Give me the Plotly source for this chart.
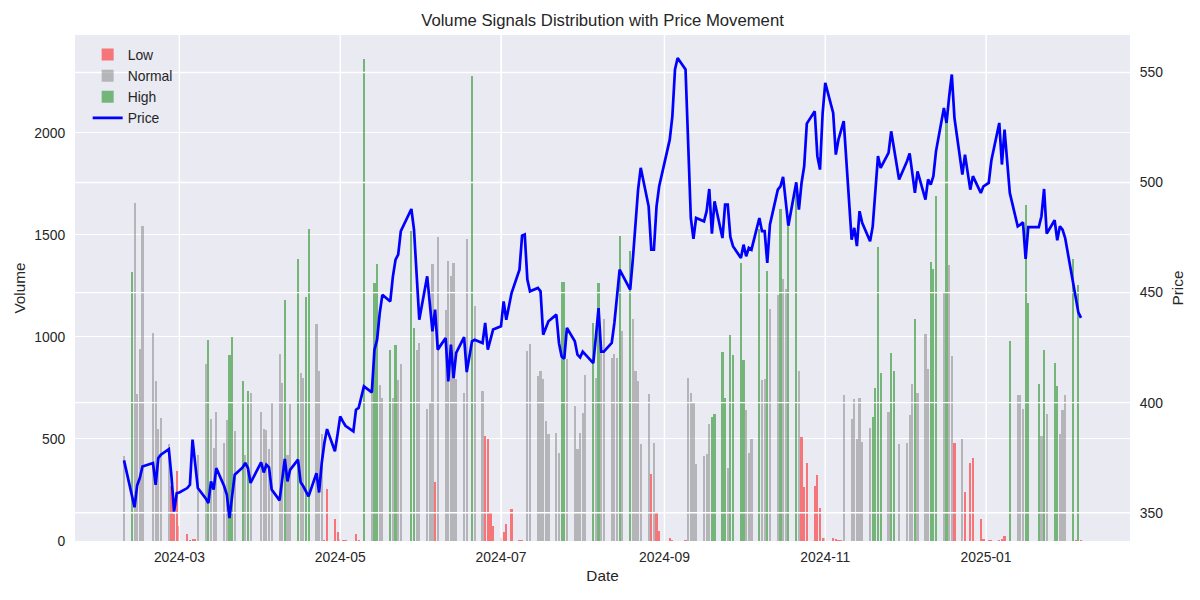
import pandas as pd
import plotly.graph_objects as go

# ---------------- data ----------------
HOLIDAYS = ["2024-02-19", "2024-03-29", "2024-05-27", "2024-06-19", "2024-07-04",
            "2024-09-02", "2024-11-28", "2024-12-25", "2025-01-01", "2025-01-09",
            "2025-01-20"]
trade_days = pd.bdate_range("2024-02-09", "2025-02-06")
dates = trade_days[~trade_days.isin(pd.to_datetime(HOLIDAYS))]

# volume per trading week
VOLUME_WEEKS = [
    [417],
    [1320, 1658, 719, 940, 1544],
    [1021, 784, 547, 605],
    [474, 270, 130, 343, 73],
    [33, 3, 11, 8, 420],
    [866, 984, 596, 458, 632],
    [482, 592, 910, 1000, 539],
    [784, 420, 735, 727],
    [632, 547, 542, 449, 675],
    [915, 773, 1181, 420, 670],
    [1381, 822, 797, 1196, 1528],
    [1062, 833, 523, 4, 253],
    [106, 44, 12, 4, 3],
    [2, 33, 3, 2, 2361],
    [727, 1266, 1356, 763, 700],
    [935, 703, 959, 788, 866],
    [1520, 1046, 935, 969],
    [645, 678, 1356, 291, 1487],
    [1131, 1373, 1299, 1361, 793],
    [724, 1482, 2276, 1152],
    [735, 515, 498, 139, 74],
    [13, 44, 82, 155],
    [5, 5, 2, 931, 964],
    [809, 833, 793, 588, 523],
    [531, 433, 1271, 1271, 890],
    [662, 449, 528, 629, 812],
    [1070, 800, 1266, 940, 1087],
    [895, 915, 895, 1495, 1029],
    [1421, 1087, 833, 784, 474],
    [719, 327, 480, 139, 49],
    [13, 5, 2, 2],
    [5, 801, 724, 675, 376],
    [417, 425, 572, 608, 621],
    [926, 699, 359, 1008, 910],
    [1364, 886, 642, 430, 498],
    [1528, 788, 793, 1324, 1136],
    [1206, 1629, 1283, 1234, 1544],
    [1699, 833, 511, 266, 384],
    [270, 322, 163, 13, 13],
    [16, 10, 5, 3, 714],
    [596, 698, 502, 703, 487],
    [556, 608, 748, 1438, 822],
    [634, 923, 832, 474],
    [479, 618, 768, 1087, 727],
    [1013, 845, 1369, 1332, 1688],
    [1217, 2051, 1351, 904, 482],
    [498, 242, 384, 409],
    [106, 11, 3, 3],
    [5, 8, 25, 980],
    [714, 714, 649, 1645, 1165],
    [768, 515, 935, 621],
    [873, 757, 523, 642, 714],
    [1381, 3, 1253, 3],
]

# volume signal per day: L = Low, N = Normal, H = High
SIGNAL_WEEKS = [
    "N", "HNNNN", "NNNN", "NLLLL", "LLLLN", "NHNNN", "NNHHN", "HNHN",
    "NNNNN", "NNHNN", "HNNHH", "NNNLL", "LLLLL", "LLLLH", "NHHNN", "HNHNN",
    "HHNN", "NNNLN", "NNNNN", "NNHN", "NLLLL", "LLLL", "LLLNN", "NNNNN",
    "NNHHN", "NNNNN", "HNHNN", "NNNHN", "HNNNN", "NLNLL", "LLLL", "LNNNN",
    "NNNHH", "HHNHH", "HHNNN", "HNNHN", "NHNNH", "HNLLL", "LLLLL", "LLLLN",
    "NNNNN", "NHHHH", "NHHN", "NNNHN", "NNHHH", "NHNNL", "NLLL", "LLLL",
    "LLLH", "NNNHH", "HNHN", "HHNNN", "HLHL",
]

PRICE_WEEKS = [
    [373.8],
    [358.0, 352.5, 362.5, 365.8, 371.0],
    [372.6, 362.7, 374.8, 376.4],
    [378.9, 366.5, 350.5, 358.9, 359.2],
    [361.2, 362.7, 383.2, 372.6, 361.2],
    [356.5, 354.4, 364.2, 360.5, 370.3],
    [362.0, 358.2, 347.6, 357.4, 367.3],
    [370.6, 372.6, 370.3, 363.5],
    [372.9, 368.3, 371.8, 370.6, 360.5],
    [355.6, 365.0, 374.4, 364.2, 369.5],
    [374.1, 363.8, 362.0, 359.7, 357.4],
    [368.0, 359.2, 372.6, 381.7, 388.0],
    [377.9, 385.5, 393.8, 391.5, 389.5],
    [387.0, 396.8, 397.6, 402.9, 407.4],
    [404.7, 424.1, 428.6, 440.7, 449.0],
    [446.0, 457.4, 465.0, 467.3, 477.9],
    [488.0, 478.6, 458.2, 437.7],
    [457.4, 445.3, 432.4, 442.3, 424.1],
    [429.4, 409.7, 426.4, 411.2, 422.6],
    [429.8, 413.9, 427.9, 428.6],
    [427.1, 436.2, 424.1, 428.6, 433.2],
    [434.7, 446.0, 437.7, 449.8],
    [460.4, 475.9, 476.4, 455.9, 450.6],
    [452.1, 450.6, 430.9, 433.9, 437.0],
    [440.0, 427.0, 421.0, 420.0, 434.0],
    [427.9, 421.8, 420.6, 423.2, 421.8],
    [418.0, 430.0, 443.0, 423.2, 423.2],
    [427.1, 436.2, 448.3, 460.4, 458.2],
    [451.4, 465.0, 481.7, 496.8, 506.7],
    [489.2, 469.5, 469.5, 489.2, 498.3],
    [519.5, 530.1, 551.4, 556.6],
    [551.4, 515.0, 483.9, 474.4, 483.9],
    [482.4, 487.0, 497.1, 476.8, 491.5],
    [474.8, 490.0, 490.0, 475.3, 471.1],
    [465.7, 471.8, 466.5, 470.3, 469.5],
    [483.9, 477.9, 477.9, 463.5, 480.9],
    [496.8, 498.3, 502.6, 490.5, 480.4],
    [500.1, 487.7, 499.8, 507.4, 526.8],
    [532.4, 512.0, 505.9, 531.6, 545.3],
    [531.6, 512.7, 519.5, 524.1, 527.9],
    [474.1, 479.4, 471.1, 487.0, 481.7],
    [473.3, 480.1, 496.8, 512.0, 506.7],
    [513.5, 523.3, 515.7, 501.4],
    [509.7, 513.2, 504.4, 495.3, 505.1],
    [492.3, 501.4, 499.1, 502.9, 514.2],
    [533.9, 527.1, 539.2, 549.1, 529.4],
    [503.6, 512.7, 496.8, 502.9],
    [495.3, 498.3, 499.8, 510.0],
    [527.1, 508.2, 524.1, 495.3],
    [480.1, 480.9, 481.9, 465.3, 479.8],
    [479.8, 484.7, 497.1, 476.8],
    [482.9, 473.8, 480.1, 478.6, 474.8],
    [455.0, 447.0, 441.0, 438.5],
]

SIGNAL_NAMES = {"L": "Low", "N": "Normal", "H": "High"}
SIGNAL_COLORS = {"L": "rgba(255,0,0,0.5)", "N": "rgba(128,128,128,0.5)", "H": "rgba(0,128,0,0.5)"}

X_TICKS = ["2024-03-01", "2024-05-01", "2024-07-01", "2024-09-01", "2024-11-01", "2025-01-01"]
X_TICK_LABELS = ["2024-03", "2024-05", "2024-07", "2024-09", "2024-11", "2025-01"]
VOL_TICKS = [0, 500, 1000, 1500, 2000]
PRICE_TICKS = [350, 400, 450, 500, 550]

# ---------------- assemble ----------------
volume = [v for w in VOLUME_WEEKS for v in w]
signal = "".join(SIGNAL_WEEKS)
price = [p for w in PRICE_WEEKS for p in w]
assert len(volume) == len(signal) == len(price) == len(dates), (len(volume), len(signal), len(price), len(dates))

df = pd.DataFrame({"date": dates, "volume": volume, "signal": list(signal), "price": price})

DAY_MS = 86400000
BAR_W = 0.8 * DAY_MS
x_lo = df["date"].min() - pd.Timedelta(hours=9.6)
x_hi = df["date"].max() + pd.Timedelta(hours=9.6)
xpad = (x_hi - x_lo) * 0.05
x_range = [x_lo - xpad, x_hi + xpad]
vol_range = [0, df["volume"].max() * 1.05]
pspan = df["price"].max() - df["price"].min()
price_range = [df["price"].min() - 0.05 * pspan, df["price"].max() + 0.05 * pspan]

FONT = "Liberation Sans, Arial, sans-serif"
TXT = "#262626"
BG = "#EAEAF2"

# page body has an 8px margin: size/margins compensate so the plot lands where the source has it
W, H = 1192, 592

fig = go.Figure()
for code in ["L", "N", "H"]:
    sub = df[df["signal"] == code]
    fig.add_trace(go.Bar(
        x=sub["date"], y=sub["volume"], name=SIGNAL_NAMES[code],
        marker=dict(color=SIGNAL_COLORS[code], line=dict(width=0)),
        width=BAR_W, yaxis="y",
    ))

# twin-axis grid (drawn above bars, below the price line, as in the source)
gx, gy = [], []
for p in PRICE_TICKS:
    gx += [x_range[0], x_range[1], None]
    gy += [p, p, None]
for t in X_TICKS:
    gx += [pd.Timestamp(t), pd.Timestamp(t), None]
    gy += [price_range[0], price_range[1], None]
fig.add_trace(go.Scatter(x=gx, y=gy, mode="lines", yaxis="y2", showlegend=False,
                         hoverinfo="skip", line=dict(color="white", width=1.4)))

fig.add_trace(go.Scatter(x=df["date"], y=df["price"], mode="lines", name="Price",
                         yaxis="y2", line=dict(color="blue", width=2.7)))

fig.update_layout(
    width=W, height=H,
    paper_bgcolor="white", plot_bgcolor=BG,
    margin=dict(l=67, r=70, t=27, b=59, autoexpand=False),
    barmode="overlay", bargap=0,
    font=dict(family=FONT, color=TXT, size=13.9),
    title=dict(text="Volume Signals Distribution with Price Movement", x=0.5, xref="paper",
               y=1 - 12 / H, yanchor="middle", font=dict(size=16.7, color=TXT)),
    xaxis=dict(type="date", range=x_range, tickvals=X_TICKS, ticktext=X_TICK_LABELS,
               showgrid=True, gridcolor="white", gridwidth=1.4, zeroline=False, showline=False,
               ticks="outside", ticklen=3, tickcolor="rgba(0,0,0,0)",
               title=dict(text="Date", font=dict(size=15.3), standoff=6)),
    yaxis=dict(range=vol_range, tickvals=VOL_TICKS, showgrid=True, gridcolor="white", gridwidth=1.4,
               zeroline=False, showline=False, ticks="outside", ticklen=6,
               tickcolor="rgba(0,0,0,0)",
               title=dict(text="Volume", font=dict(size=15.3), standoff=4)),
    yaxis2=dict(range=price_range, tickvals=PRICE_TICKS, overlaying="y", side="right",
                showgrid=False, zeroline=False, showline=False, ticks="outside", ticklen=6,
                tickcolor="rgba(0,0,0,0)",
                title=dict(text="Price", font=dict(size=15.3), standoff=10)),
    legend=dict(x=0.012, y=0.992, xanchor="left", yanchor="top", bgcolor="rgba(0,0,0,0)",
                font=dict(size=13.9, color=TXT), tracegroupgap=0, itemwidth=30),
    showlegend=True,
)

fig.write_html("out.html")
